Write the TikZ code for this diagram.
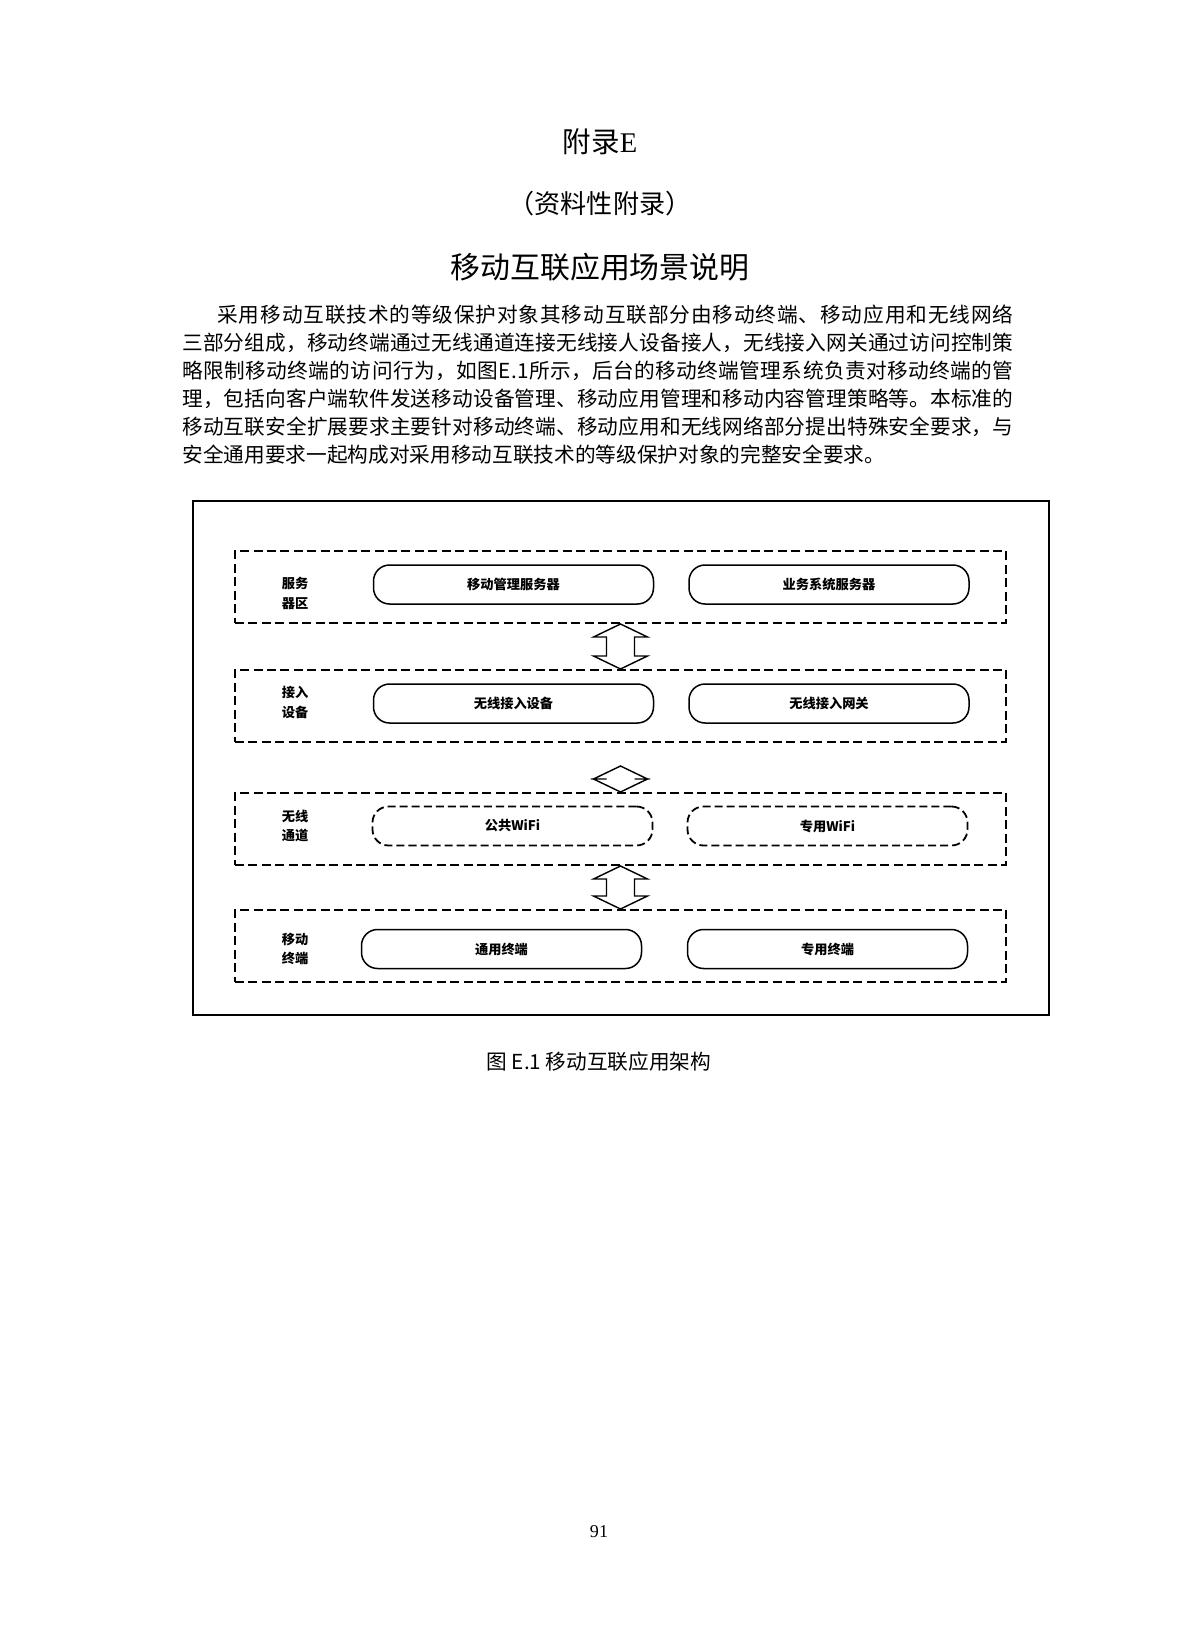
\documentclass[tikz,border=0pt]{standalone}
\usepackage{fontspec}
\setmainfont{Liberation Serif}
\newfontfamily\cjk{Noto Sans CJK SC}
\usetikzlibrary{positioning,calc}
\newlength\pxu
\setlength\pxu{0.17515mm}
\makeatletter
\newcommand\bodyline[2]{\hbox to #1\pxu{\@tfor\ch:=#2\do{\ch\hskip 0pt plus 1fil}\unskip}}
\makeatother
\newcommand\dblarrow[2]{%
  \draw[conn] (#1) -- ++(27,13) -- ++(-13,0) -- ($(#2)+(14,-13)$) -- ++(13,0) -- (#2)
    -- ++(-27,-13) -- ++(13,0) -- ($(#1)+(-14,13)$) -- ++(-13,0) -- cycle;}

\begin{document}
\begin{tikzpicture}[x=\pxu,y=-\pxu,
    layer/.style={draw,dash pattern=on 4.5pt off 2.2pt,line width=1pt,minimum width=771\pxu,minimum height=72\pxu},
    pill/.style={draw,rounded corners=8pt,line width=0.75pt,minimum width=280\pxu,minimum height=39\pxu,
      font=\cjk\bfseries\fontsize{6.6}{8}\selectfont},
    dpill/.style={pill,dash pattern=on 4pt off 2pt,line width=0.9pt},
    tag/.style={align=center,font=\cjk\bfseries\fontsize{6.6}{9.6}\selectfont},
    conn/.style={line width=0.7pt,line join=miter}]
  \tikzstyle{body}=[anchor=west,inner sep=0pt,font=\cjk\fontsize{10.3}{12}\selectfont]

  \fill[white] (0,0) rectangle (1199,1627);
  \useasboundingbox (0,0) rectangle (1199,1627);

  \node[font=\fontsize{14.2}{16}\selectfont]          (t1) at (600,142) {{\cjk 附录}E};
  \node[font=\cjk\fontsize{13}{15}\selectfont]        (t2) at (600,204) {（资料性附录）};
  \node[font=\cjk\fontsize{14.9}{17}\selectfont]      (t3) at (600,267) {移动互联应用场景说明};

  \node[body] (p1) at (217,315) {\bodyline{796}{采用移动互联技术的等级保护对象其移动互联部分由移动终端、移动应用和无线网络}};
  \node[body] (p2) at (182,343) {\bodyline{831}{三部分组成，移动终端通过无线通道连接无线接人设备接人，无线接入网关通过访问控制策}};
  \node[body] (p3) at (182,371) {\bodyline{831}{略限制移动终端的访问行为，如图E.1所示，后台的移动终端管理系统负责对移动终端的管}};
  \node[body] (p4) at (182,399) {\bodyline{831}{理，包括向客户端软件发送移动设备管理、移动应用管理和移动内容管理策略等。本标准的}};
  \node[body] (p5) at (182,427) {\bodyline{831}{移动互联安全扩展要求主要针对移动终端、移动应用和无线网络部分提出特殊安全要求，与}};
  \node[body] (p6) at (182,455) {安全通用要求一起构成对采用移动互联技术的等级保护对象的完整安全要求。};

  \node[draw,line width=0.7pt,minimum width=856\pxu,minimum height=514\pxu] (frame) at (621,758) {};

  \node[layer] (L1) at (620.5,587) {};
  \node[layer] (L2) at (620.5,706) {};
  \node[layer] (L3) at (620.5,829) {};
  \node[layer] (L4) at (620.5,946) {};

  \node[tag] (n1) at (295,593.5) {服务\\器区};
  \node[tag] (n2) at (295,702.5) {接入\\设备};
  \node[tag] (n3) at (295,826)   {无线\\通道};
  \node[tag] (n4) at (295,949)   {移动\\终端};

  \node[pill]  (mgr)  at (513.5,584.5) {移动管理服务器};
  \node[pill]  (biz)  at (829,584.5)   {业务系统服务器};
  \node[pill]  (ap)   at (513.5,703.5) {无线接入设备};
  \node[pill]  (gw)   at (829,703.5)   {无线接入网关};
  \node[dpill] (pub)  at (512.5,826)   {公共WiFi};
  \node[dpill] (pri)  at (827.5,826)   {专用WiFi};
  \node[pill]  (gen)  at (501.5,949)   {通用终端};
  \node[pill]  (ded)  at (827.5,949)   {专用终端};

  \coordinate (a2) at ($(L3.north)+(0,-26)$);
  \dblarrow{L1.south}{L2.north}
  \dblarrow{a2}{L3.north}
  \dblarrow{L3.south}{L4.north}

  \node[font=\cjk\fontsize{10.3}{12}\selectfont] (cap) at (599,1062) {图 E.1 移动互联应用架构};
  \node[font=\fontsize{9}{10}\selectfont] (pg) at (599,1532) {91};
\end{tikzpicture}
\end{document}
